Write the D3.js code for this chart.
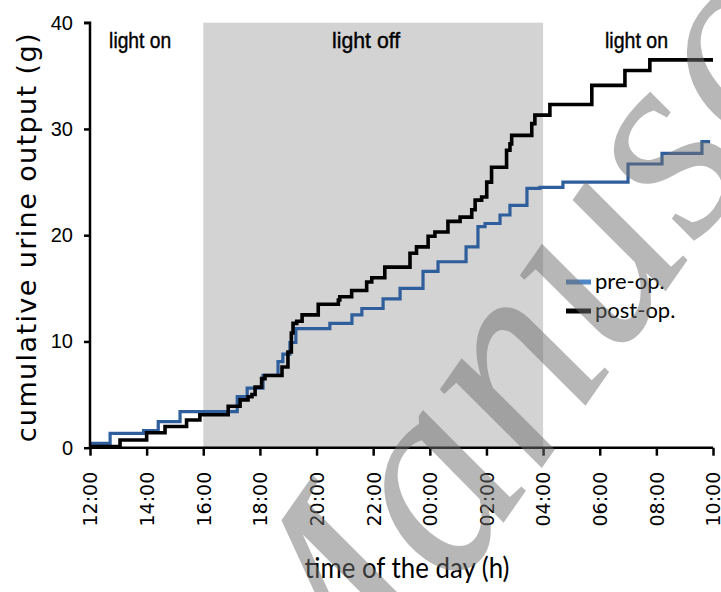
<!DOCTYPE html>
<html>
<head>
<meta charset="utf-8">
<script src="https://cdn.jsdelivr.net/npm/d3@7"></script>
<style>
  body { margin: 0; background: #fff; }
  svg { display: block; }
  .axis path, .axis line { stroke: #000; stroke-width: 2.5px; }
  .narrow { font-family: "Liberation Sans", Arial, sans-serif; }
  .calib { font-family: Lato, "Open Sans", sans-serif; }
</style>
</head>
<body>
<div class="plot-item"></div>
<script>
// hours after 12:00, cumulative urine (g)
var preHours  = [0, 0.71, 1.89, 2.41, 3.18, 5.2, 5.55, 6.11, 6.64, 6.81, 7.06, 7.27, 8.47, 9.25, 9.6, 10.35, 10.95, 11.76, 12.29, 13.28, 13.7, 13.95, 14.48, 14.83, 15.43, 15.89, 16.7, 19.0, 20.2, 21.61, 21.9];
var preGrams  = [0.4, 1.35, 1.6, 2.45, 3.4, 4.8, 5.6, 6.8, 8.1, 8.8, 9.9, 11.2, 11.7, 12.5, 13.1, 14.0, 15.0, 16.6, 17.5, 18.9, 20.8, 21.1, 21.9, 22.8, 24.4, 24.5, 25.0, 26.7, 27.7, 28.8, 28.8];
var postHours = [0, 1.06, 2.0, 2.65, 3.41, 3.88, 4.88, 5.3, 5.58, 5.72, 5.83, 6.06, 6.18, 6.78, 6.99, 7.11, 7.17, 7.3, 7.49, 8.06, 8.77, 8.82, 9.24, 9.77, 9.95, 10.41, 11.3, 11.53, 11.94, 12.18, 12.64, 13.07, 13.48, 13.6, 13.83, 14.01, 14.18, 14.71, 14.83, 14.89, 15.6, 15.71, 16.24, 17.72, 18.89, 19.77, 22];
var postGrams = [0.1, 0.73, 1.4, 2.0, 2.6, 3.1, 3.9, 4.5, 4.8, 5.0, 5.7, 6.5, 6.8, 7.6, 9.0, 10.8, 11.7, 11.9, 12.5, 13.5, 13.9, 14.2, 14.8, 15.6, 16.0, 17.0, 18.3, 18.9, 19.9, 20.3, 21.3, 21.7, 22.4, 23.3, 23.6, 25.0, 26.4, 28.0, 28.6, 29.4, 30.5, 31.3, 32.3, 34.1, 35.5, 36.5, 36.5];
var tickHours = [0, 2, 4, 6, 8, 10, 12, 14, 16, 18, 20, 22];
var tickLabels = ["12:00", "14:00", "16:00", "18:00", "20:00", "22:00", "00:00", "02:00", "04:00", "06:00", "08:00", "10:00"];
var yTicks = [0, 10, 20, 30, 40];
var darkPeriod = [4, 16];
var phaseNames = ["light on", "light off", "light on"];
var seriesNames = ["pre-op.", "post-op."];

var w = 721;
var h = 592;
var margin = { top: 22.7, left: 90, right: 8, bottom: 144.3 };
var width = w - margin.left - margin.right;
var height = h - margin.top - margin.bottom;

var svg = d3.select(".plot-item").append("svg")
      .attr("width", w)
      .attr("height", h);
var chart = svg.append("g")
      .attr("transform", "translate(" + margin.left + "," + margin.top + ")");

var x = d3.scaleLinear().domain([0, 22]).range([0, width]);
var y = d3.scaleLinear().domain([0, 40]).range([height, 0]);

// dark phase
chart.append("rect")
  .attr("x", x(darkPeriod[0]))
  .attr("y", 0)
  .attr("width", x(darkPeriod[1]) - x(darkPeriod[0]))
  .attr("height", height)
  .attr("fill", "#d3d3d3");

// label centre (hours) and width of each phase label
var phasePos = [1.77, 9.75, 19.3];
var phaseLen = [62, 68, 63];
chart.selectAll(".phase")
  .data(phaseNames)
  .enter().append("text")
    .attr("class", "phase narrow")
    .attr("x", function(d, i){ return x(phasePos[i]); })
    .attr("y", 25)
    .attr("text-anchor", "middle")
    .attr("textLength", function(d, i){ return phaseLen[i]; })
    .attr("lengthAdjust", "spacingAndGlyphs")
    .style("font-size", "22px")
    .style("stroke", "#000")
    .style("stroke-width", "0.4px")
    .text(function(d){ return d; });

var line = d3.line()
  .curve(d3.curveStepAfter)
  .x(function(d){ return x(d[0]); })
  .y(function(d){ return y(d[1]); });

var pre = preHours.map(function(t, i){ return [t, preGrams[i]]; });
var post = postHours.map(function(t, i){ return [t, postGrams[i]]; });

chart.append("path").datum(pre)
  .attr("d", line).attr("fill", "none")
  .attr("stroke", "#2f5e9c").attr("stroke-width", 3.2);
chart.append("path").datum(post)
  .attr("d", line).attr("fill", "none")
  .attr("stroke", "#000").attr("stroke-width", 3.6);

// axes
var xAxis = d3.axisBottom(x).tickValues(tickHours).tickSize(8)
  .tickFormat(function(d, i){ return tickLabels[i]; });
var yAxis = d3.axisLeft(y).tickValues(yTicks).tickSize(6).tickFormat(d3.format("d"));

var gx = chart.append("g").attr("class", "axis x")
  .attr("transform", "translate(0," + height + ")")
  .call(xAxis);
gx.select(".domain").attr("d", "M0,0H" + width);
gx.selectAll("text")
  .attr("transform", "rotate(-90)")
  .attr("x", -24)
  .attr("y", 0)
  .attr("dy", "0.36em")
  .style("text-anchor", "end")
  .style("font-family", "DejaVu Sans, Verdana, sans-serif")
  .style("font-size", "19px")
  .attr("fill", "#000");

var gy = chart.append("g").attr("class", "axis y").call(yAxis);
gy.select(".domain").attr("d", "M-6,0H0V" + height);
gy.selectAll("text")
  .attr("x", -17)
  .style("font-family", "Liberation Sans, Arial, sans-serif")
  .style("font-size", "20px")
  .attr("fill", "#000");

svg.append("text")
  .attr("transform", "translate(36," + (margin.top + height / 2 + 2) + ") rotate(-90)")
  .attr("text-anchor", "middle")
  .style("font-family", "DejaVu Sans, Verdana, sans-serif")
  .style("font-size", "27px")
  .style("letter-spacing", "1.4px")
  .text("cumulative urine output (g)");

svg.append("text")
  .attr("class", "calib")
  .attr("x", 407)
  .attr("y", 578)
  .attr("text-anchor", "middle")
  .attr("textLength", 205)
  .attr("lengthAdjust", "spacingAndGlyphs")
  .style("font-size", "29px")
  .text("time of the day (h)");

// legend
var legend = svg.append("g").attr("transform", "translate(566,282)");
legend.selectAll("line")
  .data(["#4f86c6", "#000"])
  .enter().append("line")
    .attr("x1", 0).attr("x2", 25)
    .attr("y1", function(d, i){ return i * 29; })
    .attr("y2", function(d, i){ return i * 29; })
    .attr("stroke", function(d){ return d; })
    .attr("stroke-width", 5);
legend.selectAll("text")
  .data(seriesNames)
  .enter().append("text")
    .attr("class", "calib")
    .attr("x", 29)
    .attr("y", function(d, i){ return i * 29 + 7; })
    .style("font-size", "22px")
    .text(function(d){ return d; });

// watermark
svg.append("text")
  .attr("transform", "translate(322,782) rotate(-55)")
  .style("font-family", "Liberation Serif, Times New Roman, serif")
  .style("font-style", "italic")
  .style("font-size", "280px")
  .attr("fill", "#707070")
  .attr("fill-opacity", 0.5)
  .text("Manuscript");
</script>
</body>
</html>
